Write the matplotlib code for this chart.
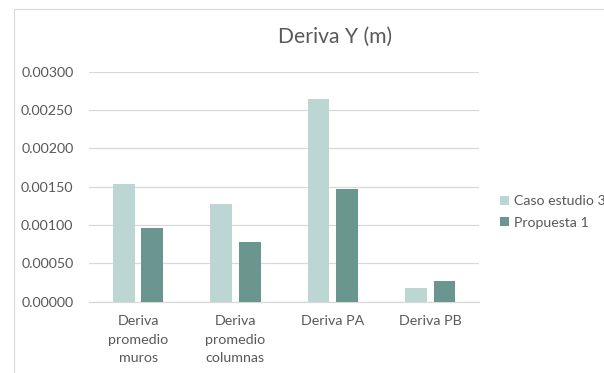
import numpy as np
import matplotlib.pyplot as plt
from matplotlib.patches import Rectangle

categories = ["Deriva\npromedio\nmuros", "Deriva\npromedio\ncolumnas", "Deriva PA", "Deriva PB"]
caso_estudio_3 = [0.001535, 0.00128, 0.00264, 0.00018]
propuesta_1 = [0.00096, 0.00078, 0.00147, 0.00027]
y_ticks = [0.0, 0.0005, 0.0010, 0.0015, 0.0020, 0.0025, 0.0030]

LIGHT = "#bcd6d3"
DARK = "#6a968f"
GRID = "#d9d9d9"
TEXT = "#595959"


def main():
    plt.rcParams["font.family"] = ["Lato", "DejaVu Sans"]
    fig = plt.figure(figsize=(6.04, 3.73), dpi=100)
    # chart area border, cut off at right and bottom like the screenshot
    fig.patches.append(Rectangle((14 / 604, -0.1), 1.2, 1.1 - 9.5 / 373,
                                 transform=fig.transFigure, fill=False,
                                 edgecolor=GRID, linewidth=0.8))
    ax = fig.add_axes([0.148, 0.1912, 0.6447, 0.6166])

    x = np.arange(len(categories))
    w = 0.224
    off = 0.147
    ax.bar(x - off, caso_estudio_3, w, color=LIGHT, label="Caso estudio 3", zorder=3)
    ax.bar(x + off, propuesta_1, w, color=DARK, label="Propuesta 1", zorder=3)

    ax.set_xlim(-0.5, len(categories) - 0.5)
    ax.set_ylim(0, 0.003)
    ax.set_yticks(y_ticks)
    ax.set_yticklabels([f"{v:.5f}" for v in y_ticks])
    ax.set_xticks(x)
    ax.set_xticklabels(categories, linespacing=1.68)
    ax.tick_params(axis="both", length=0, colors=TEXT, labelsize=10.3)
    ax.tick_params(axis="y", pad=11.5)
    ax.tick_params(axis="x", pad=9.5)
    for lab in ax.get_xticklabels():
        lab.set_verticalalignment("top")

    ax.grid(axis="y", color=GRID, linewidth=0.9, zorder=0)
    for s in ["top", "right", "left"]:
        ax.spines[s].set_visible(False)
    ax.spines["bottom"].set_color(GRID)
    ax.spines["bottom"].set_linewidth(0.9)

    fig.text(335 / 604, 1 - 37 / 373, "Deriva Y (m)", ha="center", va="center",
             fontsize=15.2, color=TEXT)

    # the reference screenshot crops the legend at its right edge
    fig.legend(loc="center left", bbox_to_anchor=(500 / 604, 1 - 212 / 373),
               frameon=False, fontsize=10.2, labelcolor=TEXT, handlelength=0.65,
               handleheight=0.65, handletextpad=0.35, labelspacing=0.65,
               borderaxespad=0, borderpad=0)

    fig.savefig("out.png", dpi=100)


if __name__ == "__main__":
    main()
